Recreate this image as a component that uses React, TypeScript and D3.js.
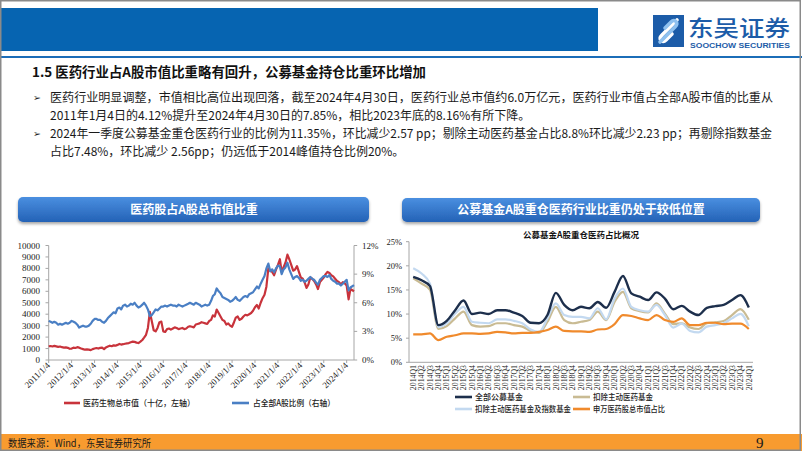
import React from 'react';
import * as d3 from 'd3';

const CJK = '"Noto Sans CJK SC", "Noto Sans", sans-serif';
const SERIF = '"Liberation Serif", "DejaVu Serif", serif';

// ---------- Left chart data (monthly, 2011-01 .. 2024-04) ----------
// 医药生物总市值（十亿）
const marketCap = [
  1200, 1220, 1180, 1230, 1190, 1150, 1180, 1120, 1080, 1100, 1060, 980,
  1000, 1080, 1050, 1120, 1080, 1000, 950, 900, 920, 900, 860, 950,
  1000, 1050, 1000, 1060, 1080, 950, 1100, 1180, 1250, 1200, 1280, 1250,
  1320, 1400, 1350, 1380, 1420, 1450, 1480, 1550, 1600, 1580, 1520, 1480,
  1600, 1750, 1950, 2200, 2800, 4200, 3400, 2600, 2500, 2800, 3300, 3350,
  2500, 2450, 2700, 2750, 2650, 2750, 2850, 2800, 2700, 2750, 2800, 2700,
  2750, 2900, 2950, 2900, 2850, 3100, 3150, 3200, 3300, 3250, 3200, 3150,
  3400, 3500, 3900, 3800, 4400, 4100, 3800, 3500, 3400, 3100, 3200, 3000,
  2900, 3300, 3700, 3800, 3500, 3600, 3800, 3950, 3900, 4000, 4100, 4300,
  4600, 4800, 4500, 5000, 5400, 5700, 6400, 8000, 7800, 7700, 7400, 7900,
  8300, 8800, 7700, 8100, 8500, 9200, 8800, 8300, 7800, 7900, 8200, 7700,
  7200, 7100, 6800, 6300, 6600, 7200, 7100, 6900, 6600, 6200, 6800, 7000,
  7200, 7500, 7700, 7600, 7400, 7300, 7100, 6900, 6800, 6600, 6800, 6700,
  6500, 5300, 6200, 6000,
];
// 占全部A股比例（%）
const shareOfA = [
  4.1, 4.0, 3.9, 4.0, 3.9, 3.7, 3.8, 3.7, 3.8, 3.9, 3.8, 3.9,
  4.1, 4.0, 3.9, 3.7, 3.4, 3.5, 3.6, 3.5, 3.5, 3.6, 3.8, 4.1,
  4.3, 4.3, 4.2, 4.2, 4.0, 3.9, 4.1, 4.4, 4.6, 4.8, 5.0, 4.9,
  5.4, 5.5, 5.3, 5.7, 5.8, 5.6, 5.7, 5.9, 5.8, 6.0, 5.7, 5.5,
  5.6, 5.8, 6.0, 5.7, 5.3, 4.6, 4.7, 5.0, 5.3, 5.2, 5.4, 5.6,
  5.6, 5.7, 5.6, 5.7, 5.8, 5.7, 5.7, 5.6, 5.8, 5.7, 5.6, 5.7,
  5.8, 5.9, 6.0, 5.9, 5.8, 6.0, 5.9, 5.8, 5.6, 5.7, 5.8, 5.7,
  5.8, 6.2, 6.7, 6.9, 7.5, 7.2, 7.0, 6.6, 6.5, 6.4, 6.3, 6.1,
  6.2, 6.4, 6.6, 6.3, 6.2, 6.4, 6.6, 6.7, 6.6, 6.9, 7.0, 7.1,
  7.4, 7.7, 7.5, 8.0, 8.4, 8.8, 9.6, 10.1, 9.3, 9.5, 9.2, 9.6,
  9.9, 9.8, 9.0, 9.5, 9.7, 10.2, 9.5, 9.0, 8.5, 8.7, 8.8, 8.6,
  8.3, 8.4, 8.2, 8.3, 8.5, 8.7, 8.5, 8.4, 8.1, 7.9, 8.4, 8.6,
  8.8, 8.8, 8.7, 8.9, 8.5, 8.3, 8.2, 8.0, 8.0, 7.8, 8.0, 8.2,
  8.4, 7.3, 7.6, 7.85,
];
const leftXLabels = [
  '2011/1/4', '2012/1/4', '2013/1/4', '2014/1/4', '2015/1/4', '2016/1/4', '2017/1/4',
  '2018/1/4', '2019/1/4', '2020/1/4', '2021/1/4', '2022/1/4', '2023/1/4', '2024/1/4',
];
const capTicks = [0, 1000, 2000, 3000, 4000, 5000, 6000, 7000, 8000, 9000, 10000];
const shareTicks = [0, 3, 6, 9, 12];

// ---------- Right chart data (quarterly 2014Q1 .. 2024Q1) ----------
const quarters = [
  '2014Q1', '2014Q2', '2014Q3', '2014Q4', '2015Q1', '2015Q2', '2015Q3', '2015Q4',
  '2016Q1', '2016Q2', '2016Q3', '2016Q4', '2017Q1', '2017Q2', '2017Q3', '2017Q4',
  '2018Q1', '2018Q2', '2018Q3', '2018Q4', '2019Q1', '2019Q2', '2019Q3', '2019Q4',
  '2020Q1', '2020Q2', '2020Q3', '2020Q4', '2021Q1', '2021Q2', '2021Q3', '2021Q4',
  '2022Q1', '2022Q2', '2022Q3', '2022Q4', '2023Q1', '2023Q2', '2023Q3', '2023Q4',
  '2024Q1',
];
const allFunds = [
  17.7, 17.0, 15.8, 7.7, 8.6, 10.8, 12.8, 10.0, 10.3, 10.0, 10.8, 10.8, 10.3, 9.6, 8.2, 8.1,
  9.8, 14.4, 11.9, 10.8, 11.5, 11.2, 12.5, 11.3, 14.6, 17.9, 14.3, 13.6, 12.9, 14.5, 13.2, 11.0,
  11.7, 10.5, 9.8, 11.3, 11.65, 11.9, 12.9, 13.92, 11.35,
];
const exActive = [
  17.4, 16.3, 15.0, 6.9, 7.5, 9.1, 10.5, 7.7, 7.4, 7.5, 8.1, 8.1, 7.7, 7.4, 6.5, 6.1,
  8.4, 11.5, 8.75, 8.1, 8.4, 8.75, 10.5, 8.75, 12.5, 14.6, 11.2, 10.6, 10.35, 12.2, 10.1, 7.9,
  8.1, 7.2, 6.9, 8.1, 8.3, 8.55, 9.8, 11.03, 8.8,
];
const exActiveIndex = [
  19.5, 18.4, 16.3, 7.3, 8.1, 10.1, 11.5, 8.4, 8.2, 8.1, 8.9, 8.9, 8.6, 8.1, 6.8, 6.3,
  9.1, 12.2, 9.8, 9.4, 9.4, 9.1, 11.2, 8.9, 13.2, 15.3, 11.5, 10.8, 10.5, 11.9, 9.8, 7.2,
  8.0, 6.5, 6.2, 7.4, 7.7, 8.1, 9.1, 10.04, 7.48,
];
const swShare = [
  5.8, 5.8, 6.0, 4.6, 5.3, 5.6, 6.0, 6.0, 5.9, 6.0, 6.3, 6.2, 6.0, 6.1, 6.1, 6.3,
  6.7, 7.4, 6.5, 6.4, 6.4, 6.3, 6.8, 6.9, 7.9, 9.8, 9.6, 9.1, 8.75, 9.8, 8.75, 8.4,
  9.1, 7.7, 7.7, 8.2, 8.2, 7.9, 8.0, 8.0, 6.9,
];
const fundTicks = [0, 5, 10, 15, 20, 25];

const fundSeries = [
  { name: '扣除主动医药基金', values: exActive, color: '#c9bb93' },
  { name: '扣除主动医药基金及指数基金', values: exActiveIndex, color: '#c3d9f0' },
  { name: '申万医药股总市值占比', values: swShare, color: '#f08a2c' },
  { name: '全部公募基金', values: allFunds, color: '#1d2f4c' },
];

export default function App() {
  // Left chart scales
  const dates = marketCap.map((_, i) =>
    i === marketCap.length - 1 ? new Date(2024, 3, 30) : new Date(2011, i, 4)
  );
  const xL = d3.scaleTime().domain([new Date(2011, 0, 4), new Date(2024, 3, 30)]).range([48.7, 354]);
  const yCap = d3.scaleLinear().domain([0, 10000]).range([360, 245.5]);
  const yShare = d3.scaleLinear().domain([0, 12]).range([360, 245.5]);
  const capLine = d3.line<number>().x((_, i) => xL(dates[i])).y((d) => yCap(d));
  const shareLine = d3.line<number>().x((_, i) => xL(dates[i])).y((d) => yShare(d));

  // Right chart scales
  const xR = d3.scalePoint<string>().domain(quarters).range([409, 753]).padding(0.5);
  const yR = d3.scaleLinear().domain([0, 25]).range([362.3, 241.7]);
  const fundLine = d3.line<number>().x((_, i) => xR(quarters[i]) as number).y((d) => yR(d)).curve(d3.curveMonotoneX);

  const axisColor = '#a6a6a6';

  return (
    <svg width={802} height={451} style={{ position: 'absolute', left: 0, top: 0, background: '#fff' }}>
      <defs>
        <linearGradient id="hdr" x1="0" y1="0" x2="0" y2="1">
          <stop offset="0" stopColor="#4a8fe0" />
          <stop offset="1" stopColor="#2462b6" />
        </linearGradient>
        <filter id="sh" x="-5%" y="-30%" width="110%" height="180%">
          <feDropShadow dx="0" dy="2" stdDeviation="1.6" floodColor="#000" floodOpacity="0.35" />
        </filter>
      </defs>
      <rect x={0} y={0} width={802} height={451} fill="#fff" />

      {/* Header */}
      <rect x={0} y={8} width={598} height={43} fill="#0664b1" />
      <rect x={0} y={56} width={802} height={2} fill="#1b6db8" />
      {/* Logo */}
      <rect x={653} y={15} width={31} height={32} fill="#1c5ca8" />
      <path d="M677 20 L662 35 C658 39 662 44 666 40 L672 34" stroke="#fff" strokeWidth={3.6} fill="none" strokeLinecap="round" />
      <path d="M660 42 L675 27 C679 23 675 18 671 22 L665 28" stroke="#8fc1ef" strokeWidth={3.6} fill="none" strokeLinecap="round" />
      <text x={688} y={36} fontFamily={CJK} fontSize={22} fontWeight={500} fill="#1c5ca8" textLength={102} lengthAdjust="spacingAndGlyphs">东吴证券</text>
      <text x={690} y={47.5} fontFamily='"Liberation Sans", Arial, sans-serif' fontSize={8} fontWeight={700} fill="#1c5ca8" textLength={100} lengthAdjust="spacingAndGlyphs">SOOCHOW SECURITIES</text>

      {/* Title & bullets */}
      <text x={32} y={77} fontFamily={CJK} fontSize={13.5} fontWeight={700} fill="#111" textLength={394} lengthAdjust="spacingAndGlyphs">1.5 医药行业占A股市值比重略有回升，公募基金持仓比重环比增加</text>
      <text x={33} y={101} fontFamily='"DejaVu Sans", sans-serif' fontSize={9.5} fill="#222">➢</text>
      <text x={50} y={101.5} fontFamily={CJK} fontSize={12} fill="#1a1a1a" textLength={723} lengthAdjust="spacingAndGlyphs">医药行业明显调整，市值相比高位出现回落，截至2024年4月30日，医药行业总市值约6.0万亿元，医药行业市值占全部A股市值的比重从</text>
      <text x={50} y={119.5} fontFamily={CJK} fontSize={12} fill="#1a1a1a">2011年1月4日的4.12%提升至2024年4月30日的7.85%，相比2023年底的8.16%有所下降。</text>
      <text x={33} y={137} fontFamily='"DejaVu Sans", sans-serif' fontSize={9.5} fill="#222">➢</text>
      <text x={50} y={137.5} fontFamily={CJK} fontSize={12} fill="#1a1a1a" textLength={722} lengthAdjust="spacingAndGlyphs">2024年一季度公募基金重仓医药行业的比例为11.35%，环比减少2.57 pp；剔除主动医药基金占比8.8%环比减少2.23 pp；再剔除指数基金</text>
      <text x={50} y={155.5} fontFamily={CJK} fontSize={12} fill="#1a1a1a">占比7.48%，环比减少 2.56pp；仍远低于2014峰值持仓比例20%。</text>

      {/* Panel headers */}
      <rect x={18} y={197} width={351} height={25} rx={5} fill="url(#hdr)" filter="url(#sh)" />
      <text x={194} y={213.5} textAnchor="middle" fontFamily={CJK} fontSize={12} fontWeight={700} fill="#fff">医药股占A股总市值比重</text>
      <rect x={402} y={198} width={358} height={24} rx={5} fill="url(#hdr)" filter="url(#sh)" />
      <text x={581} y={214} textAnchor="middle" fontFamily={CJK} fontSize={12} fontWeight={700} fill="#fff">公募基金A股重仓医药行业比重仍处于较低位置</text>

      {/* ---------- Left chart ---------- */}
      <line x1={48.7} x2={48.7} y1={245.5} y2={360} stroke={axisColor} />
      <line x1={354} x2={354} y1={245.5} y2={360} stroke={axisColor} />
      <line x1={48.7} x2={354} y1={360} y2={360} stroke={axisColor} />
      {capTicks.map((t) => (
        <g key={'c' + t}>
          <line x1={45.5} x2={48.7} y1={yCap(t)} y2={yCap(t)} stroke={axisColor} />
          <text x={40} y={yCap(t) + 3} textAnchor="end" fontFamily={SERIF} fontSize={9} fill="#222">{t}</text>
        </g>
      ))}
      {shareTicks.map((t) => (
        <g key={'s' + t}>
          <line x1={354} x2={357.2} y1={yShare(t)} y2={yShare(t)} stroke={axisColor} />
          <text x={362} y={yShare(t) + 3} fontFamily={SERIF} fontSize={9} fill="#222">{t + '%'}</text>
        </g>
      ))}
      {leftXLabels.map((lab, i) => {
        const x = xL(new Date(2011 + i, 0, 4));
        return (
          <g key={lab}>
            <line x1={x} x2={x} y1={360} y2={363} stroke={axisColor} />
            <text transform={`translate(${x + 2},${366}) rotate(-45)`} textAnchor="end" fontFamily={SERIF} fontSize={9} fill="#222">{lab}</text>
          </g>
        );
      })}
      <path d={capLine(marketCap) || ''} fill="none" stroke="#c8333b" strokeWidth={2.2} strokeLinejoin="round" />
      <path d={shareLine(shareOfA) || ''} fill="none" stroke="#4a7fc4" strokeWidth={2.2} strokeLinejoin="round" />
      {/* left legend */}
      <line x1={64} x2={80} y1={403} y2={403} stroke="#c8333b" strokeWidth={2.6} />
      <text x={83} y={406} fontFamily={CJK} fontSize={8.2} fontWeight={500} fill="#222" textLength={112} lengthAdjust="spacingAndGlyphs">医药生物总市值（十亿，左轴）</text>
      <line x1={232} x2={249} y1={403} y2={403} stroke="#4a7fc4" strokeWidth={2.6} />
      <text x={253} y={406} fontFamily={CJK} fontSize={8.2} fontWeight={500} fill="#222" textLength={82} lengthAdjust="spacingAndGlyphs">占全部A股比例（右轴）</text>

      {/* ---------- Right chart ---------- */}
      <text x={581} y={238} textAnchor="middle" fontFamily={CJK} fontSize={8.5} fontWeight={700} fill="#111">公募基金A股重仓医药占比概况</text>
      <line x1={409} x2={409} y1={241.7} y2={362.3} stroke={axisColor} />
      <line x1={409} x2={753} y1={362.3} y2={362.3} stroke={axisColor} />
      {fundTicks.map((t) => (
        <g key={'f' + t}>
          <line x1={406} x2={409} y1={yR(t)} y2={yR(t)} stroke={axisColor} />
          <text x={402} y={yR(t) + 3} textAnchor="end" fontFamily={SERIF} fontSize={8.5} fill="#222">{t + '%'}</text>
        </g>
      ))}
      {quarters.map((q) => {
        const x = xR(q) as number;
        return (
          <text key={q} transform={`translate(${x + 2.7},${365}) rotate(-90)`} textAnchor="end" fontFamily={SERIF} fontSize={7.8} fill="#222">{q}</text>
        );
      })}
      {fundSeries.map((s) => (
        <path key={s.name} d={fundLine(s.values) || ''} fill="none" stroke={s.color} strokeWidth={s.name === '全部公募基金' ? 2.4 : 2.2} strokeLinejoin="round" />
      ))}
      {/* right legend */}
      <line x1={455} x2={472} y1={397} y2={397} stroke="#1d2f4c" strokeWidth={2.6} />
      <text x={475} y={400} fontFamily={CJK} fontSize={8} fontWeight={500} fill="#222">全部公募基金</text>
      <line x1={573} x2={590} y1={397} y2={397} stroke="#c9bb93" strokeWidth={2.6} />
      <text x={593} y={400} fontFamily={CJK} fontSize={8} fontWeight={500} fill="#222" textLength={60} lengthAdjust="spacingAndGlyphs">扣除主动医药基金</text>
      <line x1={455} x2={472} y1={409} y2={409} stroke="#c3d9f0" strokeWidth={2.6} />
      <text x={475} y={412} fontFamily={CJK} fontSize={8} fontWeight={500} fill="#222" textLength={96} lengthAdjust="spacingAndGlyphs">扣除主动医药基金及指数基金</text>
      <line x1={573} x2={590} y1={409} y2={409} stroke="#f08a2c" strokeWidth={2.6} />
      <text x={593} y={412} fontFamily={CJK} fontSize={8} fontWeight={500} fill="#222" textLength={72} lengthAdjust="spacingAndGlyphs">申万医药股总市值占比</text>

      {/* Footer */}
      <rect x={0} y={434} width={802} height={17} fill="#f89b2f" />
      <text x={8} y={446.5} fontFamily={CJK} fontSize={10.5} fill="#1a1a1a" textLength={143} lengthAdjust="spacingAndGlyphs">数据来源：Wind，东吴证券研究所</text>
      <text x={756} y={448} fontFamily={SERIF} fontSize={15} fill="#1a1a1a">9</text>

      {/* Slide frame */}
      <rect x={0.75} y={0.75} width={799.5} height={449.5} fill="none" stroke="#8a8a8a" strokeWidth={1.5} />
    </svg>
  );
}
